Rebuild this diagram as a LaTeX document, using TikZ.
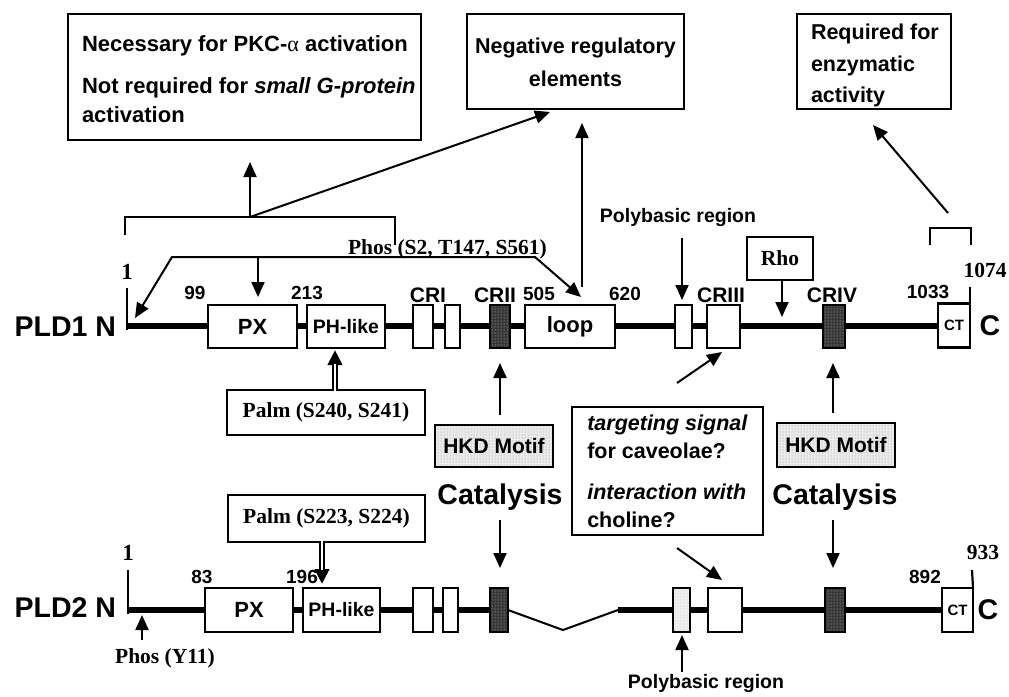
\documentclass[tikz,border=0pt]{standalone}
\usepackage{fontspec}
\setmainfont{Liberation Sans}
\newfontfamily\rmtimes{Liberation Serif}
\usetikzlibrary{arrows.meta,patterns}

\tikzset{
  every node/.style={inner sep=0pt, outer sep=0pt},
  sanslbl/.style={font=\bfseries\fontsize{21}{25}\selectfont},
  smallsans/.style={font=\bfseries\fontsize{19.5}{23}\selectfont},
  tnr/.style={font=\rmtimes\bfseries\fontsize{21.5}{25}\selectfont},
  num/.style={font=\bfseries\fontsize{19}{22}\selectfont},
  big/.style={font=\bfseries\fontsize{28.5}{32}\selectfont},
  note/.style={draw, line width=2pt, fill=white},
  dom/.style={draw, line width=2.5pt, fill=white, minimum height=43pt,
              font=\bfseries\fontsize{22}{24}\selectfont},
  cat/.style={draw, line width=2.5pt, minimum height=43pt,
              preaction={fill=black!78}, pattern=dots, pattern color=white!75!black},
  hkd/.style={draw, line width=2pt, preaction={fill=black!8},
              pattern=dots, pattern color=black!45,
              font=\bfseries\fontsize{21}{24}\selectfont},
  arr/.style={line width=2pt, -{Triangle[length=15pt,width=13pt]}},
  plain/.style={line width=2pt},
  backbone/.style={line width=6.5pt},
  tick/.style={line width=2.2pt},
}

\begin{document}
\begin{tikzpicture}[x=1pt, y=-1pt]
\useasboundingbox (0,0) rectangle (1009,696);

% ---------------- annotation boxes on top ----------------
\node[note, minimum width=353pt, minimum height=126pt] (nec) at (244.5,77) {};
\node[align=left, font=\bfseries\fontsize{22}{29}\selectfont, anchor=north west]
  (nectext) at (82,36)
  {Necessary for PKC-{\rmtimes\mdseries α} activation\\[13pt]
   Not required for \textit{small G-protein}\\activation};
\node[note, minimum width=217pt, minimum height=95pt] (neg) at (575.5,61.5) {};
\node[align=center, font=\bfseries\fontsize{21.5}{33}\selectfont, anchor=north]
  (negtext) at (575.5,38) {Negative regulatory\\elements};
\node[note, minimum width=154pt, minimum height=95pt] (req) at (874,61.5) {};
\node[align=left, font=\bfseries\fontsize{21.5}{31.5}\selectfont, anchor=north west]
  (reqtext) at (811,24) {Required for\\enzymatic\\activity};

% bracket over the N-terminal half of PLD1
\coordinate (brL) at (125,235);
\coordinate (brLt) at (125,217);
\coordinate (brRt) at (395,217);
\coordinate (brR) at (395,245);
\coordinate (apex) at (250,217);
\coordinate (necin) at (250,162);
\coordinate (negin) at (550,112);
\draw[plain] (brL) -- (brLt) -- (brRt) -- (brR);
\draw[arr] (apex) -- (necin);
\draw[arr] (apex) -- (negin);

% loop region to negative regulatory elements
\coordinate (loopfoot) at (582,287);
\coordinate (negin2) at (582,123);
\draw[arr] (loopfoot) -- (negin2);

% bracket over the C-terminus
\coordinate (ctL) at (930,245);
\coordinate (ctLt) at (930,228);
\coordinate (ctRt) at (971,228);
\coordinate (ctR) at (971,245);
\draw[plain] (ctL) -- (ctLt) -- (ctRt) -- (ctR);
\coordinate (ctfoot) at (948,213);
\coordinate (reqin) at (873,125);
\draw[arr] (ctfoot) -- (reqin);

% phosphorylation sites on PLD1
\node[tnr, anchor=base west] (phos1) at (348,254) {Phos (S2, T147, S561)};
\coordinate (phA) at (135,318);
\coordinate (phB) at (172,257);
\coordinate (phC) at (535,257);
\coordinate (phD) at (581,297);
\draw[line width=2pt, {Triangle[length=15pt,width=13pt]}-{Triangle[length=15pt,width=13pt]}]
  (phA) -- (phB) -- (phC) -- (phD);
\coordinate (phM) at (258,257);
\coordinate (phMe) at (258,297);
\draw[arr] (phM) -- (phMe);

% ---------------- PLD1 ----------------
\coordinate (n1) at (127,326);
\coordinate (c1) at (940,326);
\coordinate (n1top) at (127,288);
\coordinate (n1bot) at (127,329.5);
\draw[backbone] (n1) -- (c1);
\draw[tick] (n1top) -- (n1bot);

\node[dom, minimum width=89pt] (px1) at (252.5,326.5) {PX};
\node[dom, minimum width=78pt, font=\bfseries\fontsize{19.5}{22}\selectfont] (ph1) at (346,326.5) {PH-like};
\node[dom, minimum width=20pt] (cria1) at (423,326.5) {};
\node[dom, minimum width=15pt] (crib1) at (452.5,326.5) {};
\node[cat, minimum width=20pt] (crii1) at (500,326.5) {};
\node[dom, minimum width=90pt] (loop1) at (570,326.5) {loop};
\node[dom, minimum width=17pt] (pb1) at (683.5,326.5) {};
\node[dom, minimum width=33pt] (criii1) at (723.5,326.5) {};
\node[cat, minimum width=22pt] (criv1) at (834,326.5) {};
\node[dom, minimum width=32pt, minimum height=44pt, font=\bfseries\fontsize{15}{17}\selectfont] (ct1) at (954,325.5) {CT};
\coordinate (t1074a) at (970,287);
\draw[tick] (t1074a) -- (ct1.north east);

\node[big, anchor=east] (pld1) at (116,327) {PLD1 N};
\node[big] (cterm1) at (990,326) {C};
\node[tnr, font=\rmtimes\bfseries\fontsize{23}{25}\selectfont] (p1s) at (127,272) {1};
\node[num] (p99) at (195,293) {99};
\node[num] (p213) at (307,293) {213};
\node[num] (p505) at (539,294) {505};
\node[num] (p620) at (625,294) {620};
\node[num] (p1033) at (928,292) {1033};
\node[tnr] (p1074) at (985,270) {1074};
\node[sanslbl] (lcri) at (428,295) {CRI};
\node[sanslbl] (lcrii) at (495,295) {CRII};
\node[sanslbl] (lcriii) at (721,295) {CRIII};
\node[sanslbl] (lcriv) at (832,295) {CRIV};

% polybasic region and Rho on PLD1
\node[smallsans] (poly1) at (678,217) {Polybasic region};
\coordinate (poly1a) at (682,238);
\coordinate (poly1b) at (682,300);
\draw[arr] (poly1a) -- (poly1b);
\node[note, tnr, minimum width=66pt, minimum height=43pt] (rho) at (780,258.5) {Rho};
\coordinate (rhoe) at (782,317);
\draw[arr] (rho.south -| rhoe) -- (rhoe);

% ---------------- middle annotations ----------------
\node[note, tnr, minimum width=198pt, minimum height=45pt] (palm1) at (326,412.5) {Palm (S240, S241)};
\coordinate (palm1a) at (335,390);
\coordinate (palm1b) at (335,350);
\coordinate (palm1w) at (335,364);
\draw[line width=5.5pt, -{Triangle[length=15pt,width=14pt]}] (palm1a) -- (palm1b);
\draw[line width=1.6pt, white] ([yshift=-1pt]palm1a) -- (palm1w);

\node[hkd, minimum width=118pt, minimum height=42pt] (hkd1) at (494,446) {HKD Motif};
\coordinate (hkd1a) at (500,415);
\coordinate (hkd1b) at (500,363);
\draw[arr] (hkd1a) -- (hkd1b);
\node[big] (cat1) at (500,497) {Catalysis};
\coordinate (cat1a) at (500,520);
\coordinate (cat1b) at (500,568);
\draw[arr] (cat1a) -- (cat1b);

\node[hkd, minimum width=118pt, minimum height=44pt] (hkd2) at (836,445) {HKD Motif};
\coordinate (hkd2a) at (833,413);
\coordinate (hkd2b) at (833,363);
\draw[arr] (hkd2a) -- (hkd2b);
\node[big] (cat2) at (835,497) {Catalysis};
\coordinate (cat2a) at (833,520);
\coordinate (cat2b) at (833,568);
\draw[arr] (cat2a) -- (cat2b);

\node[note, minimum width=191pt, minimum height=128pt, align=left,
      font=\bfseries\fontsize{21.5}{28}\selectfont] (cav) at (667.5,471)
  {\textit{targeting signal}\\for caveolae?\\[13pt]\textit{interaction with}\\choline?};
\coordinate (cavup) at (677,383);
\coordinate (cavupe) at (722,352);
\draw[arr] (cavup) -- (cavupe);
\coordinate (cavdn) at (677,548);
\coordinate (cavdne) at (722,580);
\draw[arr] (cavdn) -- (cavdne);

\node[note, tnr, minimum width=197pt, minimum height=47pt] (palm2) at (326.5,518.5) {Palm (S223, S224)};
\coordinate (palm2a) at (322,542);
\coordinate (palm2b) at (322,584);
\coordinate (palm2w) at (322,570);
\draw[line width=5.5pt, -{Triangle[length=15pt,width=14pt]}] (palm2a) -- (palm2b);
\draw[line width=1.6pt, white] ([yshift=1pt]palm2a) -- (palm2w);

% ---------------- PLD2 ----------------
\coordinate (n2) at (128,610);
\coordinate (gapL) at (508,610);
\coordinate (gapM) at (563,630);
\coordinate (gapR) at (618,610);
\coordinate (c2) at (944,610);
\coordinate (n2top) at (128,570);
\coordinate (n2bot) at (128,613.5);
\draw[backbone] (n2) -- (gapL);
\draw[plain] (gapL) -- (gapM) -- (gapR);
\draw[backbone] (gapR) -- (c2);
\draw[tick] (n2top) -- (n2bot);

\node[dom, minimum width=88pt, minimum height=44pt] (px2) at (249,610) {PX};
\node[dom, minimum width=77pt, minimum height=44pt, font=\bfseries\fontsize{19.5}{22}\selectfont] (ph2) at (341.5,610) {PH-like};
\node[dom, minimum width=20pt, minimum height=44pt] (cria2) at (423,610) {};
\node[dom, minimum width=15pt, minimum height=44pt] (crib2) at (450.5,610) {};
\node[cat, minimum width=18pt, minimum height=44pt] (crii2) at (499,610) {};
\node[dom, minimum width=17pt, minimum height=44pt, preaction={fill=black!6}, pattern=dots, pattern color=black!25] (pb2) at (681.5,610) {};
\node[dom, minimum width=34pt, minimum height=44pt] (criii2) at (725,610) {};
\node[cat, minimum width=20pt, minimum height=44pt] (criv2) at (835,610) {};
\node[dom, minimum width=31pt, minimum height=44pt, font=\bfseries\fontsize{15}{17}\selectfont] (ct2) at (957.5,610) {CT};
\coordinate (t933a) at (972,570);
\draw[tick] (t933a) -- (ct2.north east);

\node[big, anchor=east] (pld2) at (116,608) {PLD2 N};
\node[big] (cterm2) at (988,610) {C};
\node[tnr, font=\rmtimes\bfseries\fontsize{23}{25}\selectfont] (p2s) at (128,553) {1};
\node[num] (p83) at (202,577) {83};
\node[num] (p196) at (302,577) {196};
\node[num] (p892) at (925,577) {892};
\node[tnr] (p933) at (983,552) {933};

\node[tnr] (phos2) at (165,658) {Phos (Y11)};
\coordinate (phos2a) at (142,640);
\coordinate (phos2b) at (142,615);
\draw[arr] (phos2a) -- (phos2b);

\node[smallsans] (poly2) at (706,683) {Polybasic region};
\coordinate (poly2a) at (682,672);
\coordinate (poly2b) at (682,635);
\draw[arr] (poly2a) -- (poly2b);
\end{tikzpicture}
\end{document}
